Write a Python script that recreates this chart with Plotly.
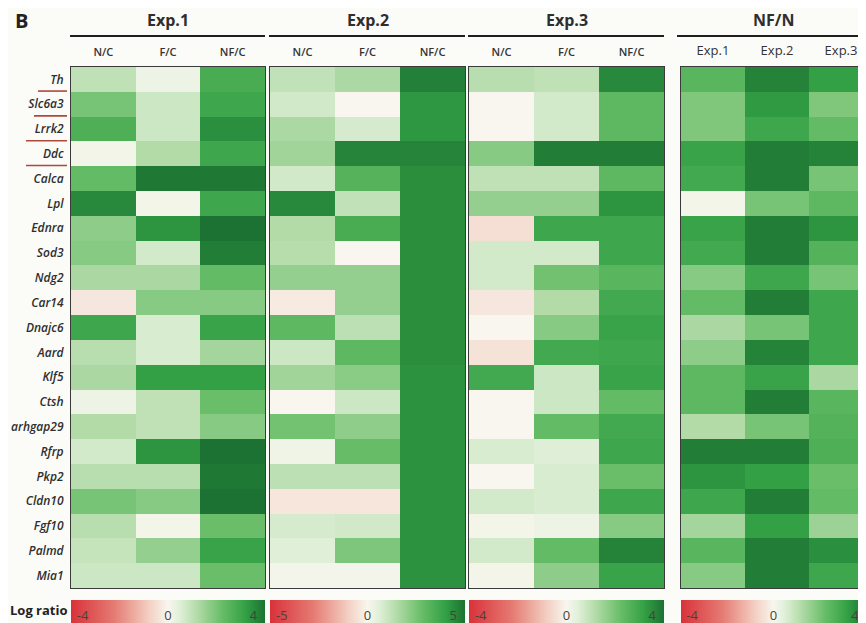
import plotly.graph_objects as go

# The page body has an 8px margin, so the figure is sized to fit inside the window
PAGE_OFFSET = 8
WIN_W, WIN_H = 866, 623
W, H = WIN_W - PAGE_OFFSET, WIN_H - PAGE_OFFSET

genes = ["Th", "Slc6a3", "Lrrk2", "Ddc", "Calca", "Lpl", "Ednra", "Sod3", "Ndg2", "Car14",
         "Dnajc6", "Aard", "Klf5", "Ctsh", "arhgap29", "Rfrp", "Pkp2", "Cldn10", "Fgf10",
         "Palmd", "Mia1"]
underlined_genes = ["Th", "Slc6a3", "Lrrk2", "Ddc"]

ratio_cols = ["N/C", "F/C", "NF/C"]
exp_cols = ["Exp.1", "Exp.2", "Exp.3"]

# Exp.1 (log ratio, scale -4..4)
exp1_nc  = [1.0, 2.0, 2.7, 0.1, 2.3, 3.6, 1.7, 1.8, 1.3, -0.3, 3.0, 1.1, 1.3, 0.2, 1.2, 0.7, 1.1, 2.0, 1.1, 0.9, 0.8]
exp1_fc  = [0.2, 0.8, 0.8, 1.2, 3.9, 0.1, 3.4, 0.7, 1.3, 1.8, 0.6, 0.6, 3.2, 1.0, 1.0, 3.4, 1.1, 1.8, 0.1, 1.6, 0.8]
exp1_nfc = [2.8, 3.0, 3.5, 3.0, 3.9, 3.0, 4.0, 3.8, 2.3, 1.8, 3.1, 1.4, 3.2, 2.2, 1.8, 4.0, 3.9, 4.1, 2.2, 3.1, 2.2]

# Exp.2 (log ratio, scale -5..5)
exp2_nc  = [1.2, 0.9, 1.6, 1.8, 0.9, 4.5, 1.5, 1.4, 2.0, -0.3, 3.0, 1.0, 1.8, 0.0, 2.6, 0.2, 1.3, -0.4, 0.8, 0.6, 0.1]
exp2_fc  = [1.6, 0.0, 0.8, 4.6, 3.2, 1.2, 3.5, 0.0, 2.0, 2.0, 1.3, 3.0, 2.2, 1.0, 2.1, 2.8, 1.3, -0.4, 0.9, 2.4, 0.1]
exp2_nfc = [4.7, 4.2, 4.2, 4.6, 4.4, 4.4, 4.4, 4.4, 4.4, 4.4, 4.4, 4.4, 4.3, 4.3, 4.3, 4.3, 4.3, 4.3, 4.3, 4.3, 4.3]

# Exp.3 (log ratio, scale -4..4)
exp3_nc  = [1.1, 0.0, 0.0, 1.8, 1.0, 1.6, -0.5, 0.7, 0.7, -0.3, 0.0, -0.4, 2.9, 0.0, 0.0, 0.6, 0.0, 0.7, 0.1, 0.7, 0.1]
exp3_fc  = [1.0, 0.7, 0.7, 3.8, 1.0, 1.6, 3.0, 0.7, 2.1, 1.2, 1.8, 2.9, 0.8, 0.8, 2.3, 0.5, 0.6, 0.6, 0.2, 2.3, 1.7]
exp3_nfc = [3.6, 2.4, 2.4, 3.8, 2.4, 3.4, 3.0, 3.0, 2.5, 2.9, 3.1, 3.0, 3.1, 2.3, 2.9, 3.0, 2.2, 3.0, 1.8, 3.7, 3.1]

# NF/N (log ratio, scale -4..4)
nfn_exp1 = [2.5, 1.9, 1.9, 3.1, 2.9, 0.1, 3.1, 2.9, 1.8, 2.3, 1.3, 1.7, 2.4, 2.4, 1.2, 3.8, 3.4, 3.0, 1.4, 2.5, 1.8]
nfn_exp2 = [3.7, 3.3, 3.0, 3.8, 3.8, 2.0, 3.8, 3.8, 3.0, 3.8, 2.0, 3.7, 3.1, 3.8, 2.0, 3.8, 3.2, 3.8, 3.2, 3.8, 3.8]
nfn_exp3 = [3.2, 1.9, 2.3, 3.7, 2.0, 2.4, 3.4, 2.6, 2.0, 3.0, 3.0, 3.0, 1.3, 2.5, 2.6, 2.7, 2.2, 2.3, 1.5, 3.5, 3.0]

panel_titles = ["Exp.1", "Exp.2", "Exp.3", "NF/N"]
panel_limits = [4, 5, 4, 4]
colorbar_ticks = [["-4", "0", "4"], ["-5", "0", "5"], ["-4", "0", "4"], ["-4", "0", "4"]]

panels = [
    (ratio_cols, [exp1_nc, exp1_fc, exp1_nfc]),
    (ratio_cols, [exp2_nc, exp2_fc, exp2_nfc]),
    (ratio_cols, [exp3_nc, exp3_fc, exp3_nfc]),
    (exp_cols, [nfn_exp1, nfn_exp2, nfn_exp3]),
]

colorscale = [
    [0.0, "#d8323a"], [0.22, "#e57a72"], [0.40, "#f3cfc2"], [0.5, "#f8f6ee"],
    [0.56, "#e0f0d8"], [0.65, "#b2dba8"], [0.78, "#67bd67"], [0.9, "#33a045"],
    [1.0, "#1c7232"],
]

# layout in window pixels (converted to figure fractions below)
px_x = [(71, 265), (270, 465), (469, 664), (681, 866)]
x_ranges = [[-0.5, 2.5], [-0.5, 2.5], [-0.5, 2.5], [-0.5, 2.39]]
top_px, bot_px = 67, 588

def fx(p):
    return (p - PAGE_OFFSET) / W

def fy(p):
    return 1 - (p - PAGE_OFFSET) / H

fig = go.Figure()
font_main = "Open Sans, Lato, Arial, sans-serif"

for i, ((cols, series), lim) in enumerate(zip(panels, panel_limits)):
    z = [[series[c][r] for c in range(3)] for r in range(len(genes))]
    ax = "" if i == 0 else str(i + 1)
    x0, x1 = px_x[i]
    cb_len = x1 - x0
    fig.add_trace(go.Heatmap(
        z=z, x=[0, 1, 2], y=genes,
        zmin=-lim, zmax=lim, colorscale=colorscale,
        xaxis="x" + ax, yaxis="y" + ax,
        hovertemplate="%{y}: %{z}<extra></extra>",
        colorbar=dict(
            orientation="h", x=fx((x0 + x1) / 2), xanchor="center",
            y=fy(600), yanchor="top", len=cb_len, lenmode="pixels",
            thickness=23, thicknessmode="pixels", xpad=0, ypad=0,
            outlinewidth=0, ticks="",
            tickvals=[-lim * 0.88, 0, lim * 0.88], ticktext=colorbar_ticks[i],
            ticklabelposition="inside",
            tickfont=dict(family=font_main, size=13, color="#4a4236"),
        ),
    ))
    if cols is exp_cols:
        tfont = dict(family=font_main, size=13, color="#333333")
    else:
        tfont = dict(family=font_main, size=11, color="#333333", weight=600)
    fig.layout["xaxis" + ax] = dict(
        domain=[fx(x0), min(1.0, fx(x1))], anchor="y" + ax, side="top",
        range=x_ranges[i], tickvals=[0, 1, 2], ticktext=cols,
        ticks="outside", ticklen=6, tickcolor="rgba(0,0,0,0)",
        tickfont=tfont,
        showline=True, mirror=True, linecolor="#3a3a3a", linewidth=1,
        showgrid=False, zeroline=False, fixedrange=True,
    )
    fig.layout["yaxis" + ax] = dict(
        domain=[fy(bot_px), fy(top_px)], anchor="x" + ax,
        autorange="reversed", showticklabels=(i == 0),
        ticks="outside" if i == 0 else "", ticklen=4, tickcolor="rgba(0,0,0,0)",
        tickfont=dict(family=font_main, size=12, color="#2e2e2e", style="italic", weight=600),
        showline=True, mirror=True, linecolor="#3a3a3a", linewidth=1,
        showgrid=False, zeroline=False, fixedrange=True,
    )

annotations = []
shapes = []
for i, title in enumerate(panel_titles):
    x0, x1 = px_x[i]
    cx = (x0 + x1) / 2 if i < 3 else 773
    annotations.append(dict(
        text="<b>%s</b>" % title, x=fx(cx), y=fy(20), xref="paper", yref="paper",
        showarrow=False, xanchor="center", yanchor="middle", borderpad=0,
        font=dict(family=font_main, size=16, color="#2e2e2e"),
    ))
    lx0 = x0 - 1 if i < 3 else 677
    shapes.append(dict(
        type="line", xref="paper", yref="paper",
        x0=fx(lx0), x1=fx(x1), y0=fy(36), y1=fy(36),
        line=dict(color="#1e1e1e", width=2.2),
    ))

annotations.append(dict(
    text="<b>B</b>", x=fx(21), y=fy(21), xref="paper", yref="paper",
    showarrow=False, xanchor="center", yanchor="middle", borderpad=0,
    font=dict(family=font_main, size=20, color="#222222"),
))
annotations.append(dict(
    text="<b>Log ratio</b>", x=fx(8), y=fy(610), xref="paper", yref="paper",
    showarrow=False, xanchor="left", yanchor="middle",
    font=dict(family=font_main, size=13, color="#222222"),
))

underline_starts = {"Th": 38, "Slc6a3": 34, "Lrrk2": 26, "Ddc": 26}
for g in underlined_genes:
    shapes.append(dict(
        type="line", xref="paper", yref="y",
        x0=fx(underline_starts[g]), x1=fx(67), y0=genes.index(g) + 0.47, y1=genes.index(g) + 0.47,
        line=dict(color="#b0483a", width=1.6),
    ))

fig.update_layout(
    width=W, height=H,
    margin=dict(l=0, r=0, t=0, b=0, autoexpand=False),
    paper_bgcolor="#fbfbf8", plot_bgcolor="#ffffff",
    annotations=annotations, shapes=shapes,
    font=dict(family=font_main),
)

fig.write_html("out.html")
